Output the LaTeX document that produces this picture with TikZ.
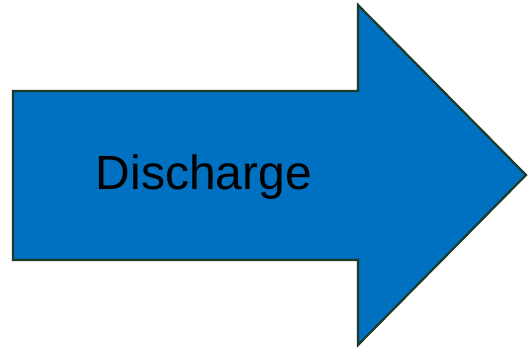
\documentclass[tikz,border=0pt]{standalone}
\usepackage{fontspec}
\setmainfont{Liberation Sans}
\definecolor{arrowblue}{RGB}{0,112,192}
\definecolor{arrowedge}{RGB}{28,58,40}
\begin{document}
\begin{tikzpicture}[x=1pt,y=1pt,
  bigarrow/.style={fill=arrowblue,draw=arrowedge,line width=2.2pt,line join=miter},
  label/.style={font=\fontsize{48}{54}\selectfont,text=black,inner sep=0pt}]
\useasboundingbox (0,0) rectangle (529,351);
\draw[bigarrow] (13,260) -- (358,260) -- (358,346) -- (526,176) -- (358,6) -- (358,91) -- (13,91) -- cycle;
\node[label] (t) at (204,174) {Discharge};
\end{tikzpicture}
\end{document}
